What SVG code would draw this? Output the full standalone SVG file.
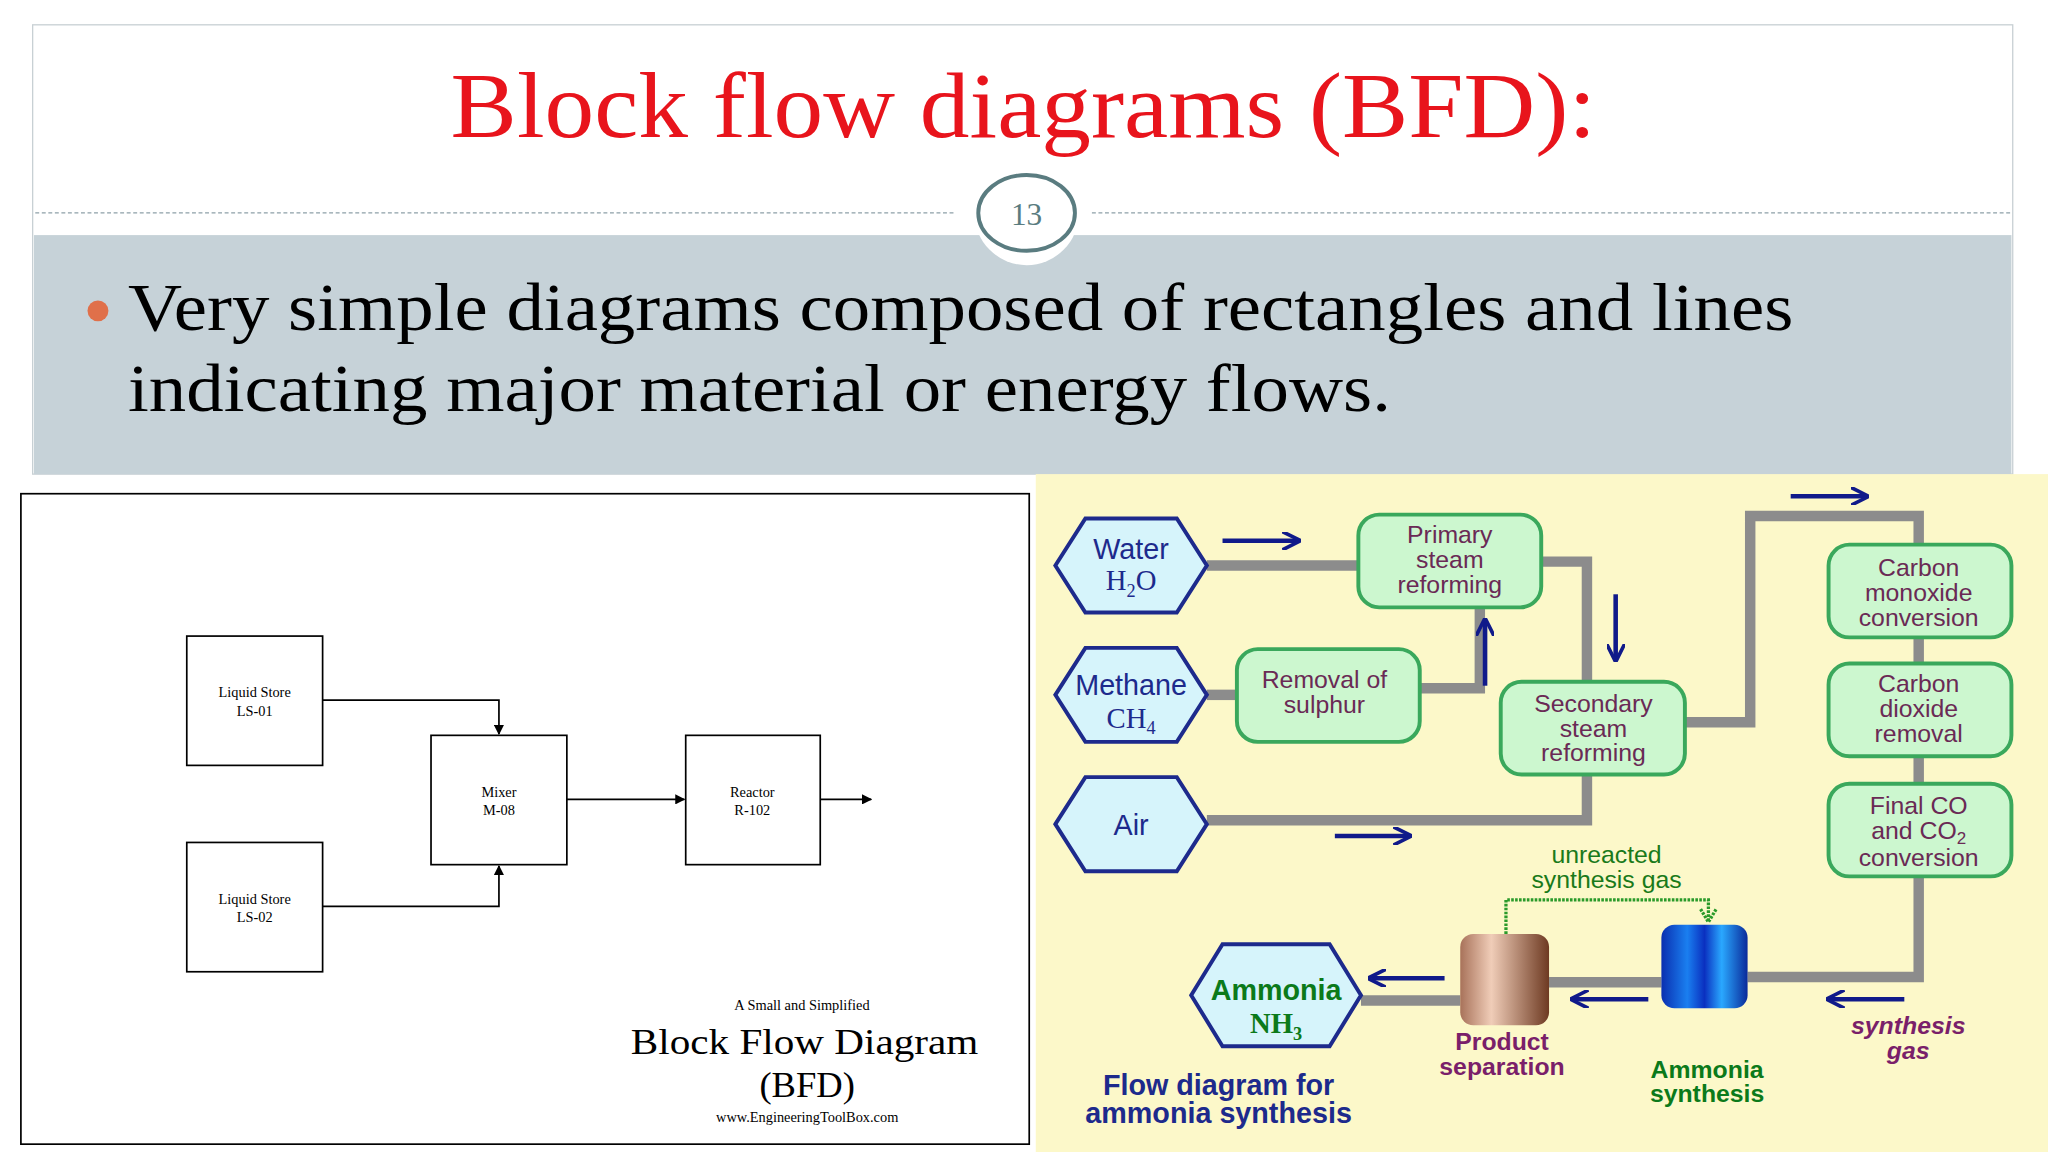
<svg xmlns="http://www.w3.org/2000/svg" width="2048" height="1152" viewBox="0 0 2048 1152">
<defs>
<style>
.bx{fill:#fff;stroke:#000;stroke-width:1.3}
.bt{font-family:"Liberation Serif",serif;font-size:11px;text-anchor:middle;fill:#000}
.ln{fill:none;stroke:#000;stroke-width:1.3}
.hex{fill:#d6f4fb;stroke:#1d2a8c;stroke-width:3}
.ht{font-family:"Liberation Sans",sans-serif;font-size:22px;fill:#1d2a8c;text-anchor:middle}
.hs{font-family:"Liberation Serif",serif;font-size:22px;fill:#1d2a8c;text-anchor:middle}
.rb{fill:#ccf7cf;stroke:#3aa85c;stroke-width:3}
.rt{font-family:"Liberation Sans",sans-serif;font-size:19px;fill:#6a2a55;text-anchor:middle}
.p{fill:none;stroke:#8c8c8c;stroke-width:8}
.ar{fill:none;stroke:#101a8a;stroke-width:3.5}
</style>
<marker id="ah" viewBox="0 0 10 10" refX="9" refY="5" markerWidth="6" markerHeight="6" orient="auto"><path d="M0,0L10,5L0,10z" fill="#000"/></marker>
<marker id="na" viewBox="0 0 10 10" refX="8" refY="5" markerWidth="4" markerHeight="4" orient="auto"><path d="M0,0L10,5L0,10" fill="none" stroke="#101a8a" stroke-width="2"/></marker>
<linearGradient id="cu" x1="0" x2="1"><stop offset="0" stop-color="#a8725a"/><stop offset="0.35" stop-color="#f0cdb8"/><stop offset="1" stop-color="#6e3a22"/></linearGradient>
<linearGradient id="bl" x1="0" x2="1"><stop offset="0" stop-color="#0a2fb0"/><stop offset="0.3" stop-color="#1a7ff0"/><stop offset="0.5" stop-color="#0a30c0"/><stop offset="0.7" stop-color="#2aa8ff"/><stop offset="1" stop-color="#0a2a9a"/></linearGradient>
</defs>
<rect width="2048" height="1152" fill="#fff"/>
<g transform="scale(1.30612)">
<g id="header">
<rect x="25" y="19" width="1516" height="344" fill="#fff" stroke="#c8d0d4"/>
<rect x="26" y="180" width="1514" height="183" fill="#c6d2d8"/>
<line x1="27" y1="163" x2="730" y2="163" stroke="#8da0a8" stroke-dasharray="3,2"/>
<line x1="836" y1="163" x2="1540" y2="163" stroke="#8da0a8" stroke-dasharray="3,2"/>
<circle cx="786" cy="163" r="40" fill="#fff"/>
<ellipse cx="786" cy="163" rx="37" ry="29" fill="#fff" stroke="#5a7c80" stroke-width="3"/>
<text x="786" y="172" font-family="Liberation Serif,serif" font-size="24" fill="#5a7c80" text-anchor="middle">13</text>
<text x="345" y="105" font-family="Liberation Serif,serif" font-size="72" fill="#e8141c" textLength="877" lengthAdjust="spacingAndGlyphs">Block flow diagrams (BFD):</text>
<circle cx="75" cy="238" r="8" fill="#e0704a"/>
<text font-family="Liberation Serif,serif" font-size="52" fill="#000"><tspan x="98" y="253" textLength="1275" lengthAdjust="spacingAndGlyphs">Very simple diagrams composed of rectangles and lines</tspan></text>
<text font-family="Liberation Serif,serif" font-size="52" fill="#000"><tspan x="98" y="315" textLength="967" lengthAdjust="spacingAndGlyphs">indicating major material or energy flows.</tspan></text>
</g>
<g id="bfd">
<rect x="16" y="378" width="772" height="498" fill="#fff" stroke="#000" stroke-width="1.3"/>
<g id="ls01"><rect class="bx" x="143" y="487" width="104" height="99"/><text class="bt" x="195" y="534">Liquid Store</text><text class="bt" x="195" y="548">LS-01</text></g>
<g id="ls02"><rect class="bx" x="143" y="645" width="104" height="99"/><text class="bt" x="195" y="692">Liquid Store</text><text class="bt" x="195" y="706">LS-02</text></g>
<g id="mixer"><rect class="bx" x="330" y="563" width="104" height="99"/><text class="bt" x="382" y="610">Mixer</text><text class="bt" x="382" y="624">M-08</text></g>
<g id="reactor"><rect class="bx" x="525" y="563" width="103" height="99"/><text class="bt" x="576" y="610">Reactor</text><text class="bt" x="576" y="624">R-102</text></g>
<g id="bfd-connectors">
<path class="ln" d="M247,536H382V562" marker-end="url(#ah)"/>
<path class="ln" d="M247,694H382V663" marker-end="url(#ah)"/>
<path class="ln" d="M434,612H524" marker-end="url(#ah)"/>
<path class="ln" d="M628,612H667" marker-end="url(#ah)"/>
</g>
<text class="bt" x="614" y="773">A Small and Simplified</text>
<text x="483" y="807" font-family="Liberation Serif,serif" font-size="27" textLength="266" lengthAdjust="spacingAndGlyphs">Block Flow Diagram</text>
<text x="618" y="840" font-family="Liberation Serif,serif" font-size="28" text-anchor="middle">(BFD)</text>
<text class="bt" x="618" y="859" font-size="10">www.EngineeringToolBox.com</text>
</g>
<g id="ammonia">
<rect x="793" y="363" width="775" height="519" fill="#fcf8c9"/>
<g id="pipes">
<path class="p" d="M924,433H1040"/>
<path class="p" d="M924,532H947"/>
<path class="p" d="M1180,430H1215V522"/>
<path class="p" d="M1087,527H1133V465"/>
<path class="p" d="M924,628H1215V593"/>
<path class="p" d="M1290,553H1340V395H1469V417"/>
<path class="p" d="M1469,488V508M1469,579V600"/>
<path class="p" d="M1469,671V748H1338M1272,752H1186M1118,766H1042"/>
</g>
<g id="water"><polygon class="hex" points="808,433 831,397 901,397 924,433 901,469 831,469"/><text class="ht" x="866" y="428">Water</text><text class="hs" x="866" y="452">H<tspan font-size="14" dy="5">2</tspan><tspan dy="-5">O</tspan></text></g>
<g id="methane"><polygon class="hex" points="808,532 831,496 901,496 924,532 901,568 831,568"/><text class="ht" x="866" y="532">Methane</text><text class="hs" x="866" y="557">CH<tspan font-size="14" dy="5">4</tspan></text></g>
<g id="air"><polygon class="hex" points="808,631 831,595 901,595 924,631 901,667 831,667"/><text class="ht" x="866" y="639">Air</text></g>
<g id="ammonia-hex"><polygon class="hex" points="912,762 936,723 1018,723 1042,762 1018,801 936,801"/><text class="ht" x="977" y="766" style="font-weight:bold;fill:#0b7a1a">Ammonia</text><text class="hs" x="977" y="791" style="font-weight:bold;fill:#0b7a1a">NH<tspan font-size="14" dy="5">3</tspan></text></g>
<g id="primary"><rect class="rb" x="1040" y="394" width="140" height="71" rx="16"/><text class="rt" x="1110" y="416">Primary</text><text class="rt" x="1110" y="435">steam</text><text class="rt" x="1110" y="454">reforming</text></g>
<g id="sulphur"><rect class="rb" x="947" y="497" width="140" height="71" rx="16"/><text class="rt" x="1014" y="527">Removal of</text><text class="rt" x="1014" y="546">sulphur</text></g>
<g id="secondary"><rect class="rb" x="1149" y="522" width="141" height="71" rx="16"/><text class="rt" x="1220" y="545">Secondary</text><text class="rt" x="1220" y="564">steam</text><text class="rt" x="1220" y="583">reforming</text></g>
<g id="coconv"><rect class="rb" x="1400" y="417" width="140" height="71" rx="16"/><text class="rt" x="1469" y="441">Carbon</text><text class="rt" x="1469" y="460">monoxide</text><text class="rt" x="1469" y="479">conversion</text></g>
<g id="co2rem"><rect class="rb" x="1400" y="508" width="140" height="71" rx="16"/><text class="rt" x="1469" y="530">Carbon</text><text class="rt" x="1469" y="549">dioxide</text><text class="rt" x="1469" y="568">removal</text></g>
<g id="final"><rect class="rb" x="1400" y="600" width="140" height="71" rx="16"/><text class="rt" x="1469" y="623">Final CO</text><text class="rt" x="1469" y="642">and CO<tspan font-size="13" dy="4">2</tspan></text><text class="rt" x="1469" y="663">conversion</text></g>
<g id="prodsep"><rect x="1118" y="715" width="68" height="70" rx="10" fill="url(#cu)"/><text class="rt" x="1150" y="804" style="font-weight:bold;fill:#7a1f6a">Product</text><text class="rt" x="1150" y="823" style="font-weight:bold;fill:#7a1f6a">separation</text></g>
<g id="synth"><rect x="1272" y="708" width="66" height="64" rx="10" fill="url(#bl)"/><text class="rt" x="1307" y="825" style="font-weight:bold;fill:#0b7a1a">Ammonia</text><text class="rt" x="1307" y="844" style="font-weight:bold;fill:#0b7a1a">synthesis</text></g>
<g id="arrows">
<path class="ar" d="M936,414H993" marker-end="url(#na)"/>
<path class="ar" d="M1371,380H1428" marker-end="url(#na)"/>
<path class="ar" d="M1237,455V504" marker-end="url(#na)"/>
<path class="ar" d="M1137,525V476" marker-end="url(#na)"/>
<path class="ar" d="M1022,640H1078" marker-end="url(#na)"/>
<path class="ar" d="M1106,749H1050" marker-end="url(#na)"/>
<path class="ar" d="M1262,765H1205" marker-end="url(#na)"/>
<path class="ar" d="M1458,765H1401" marker-end="url(#na)"/>
<path d="M1153,715V689H1308V706M1302,696L1308,706L1314,696" fill="none" stroke="#2a9a2a" stroke-width="2.5" stroke-dasharray="2,1"/>
</g>
<text font-family="Liberation Sans,sans-serif" font-size="19" fill="#1a7a1a" text-anchor="middle"><tspan x="1230" y="661">unreacted</tspan><tspan x="1230" y="680">synthesis gas</tspan></text>
<text font-family="Liberation Sans,sans-serif" font-size="19" font-weight="bold" font-style="italic" fill="#7a1f6a" text-anchor="middle"><tspan x="1461" y="792">synthesis</tspan><tspan x="1461" y="811">gas</tspan></text>
<text font-family="Liberation Sans,sans-serif" font-size="22" font-weight="bold" fill="#1d2a8c" text-anchor="middle"><tspan x="933" y="838">Flow diagram for</tspan><tspan x="933" y="860">ammonia synthesis</tspan></text>
</g>
</g>
</svg>
